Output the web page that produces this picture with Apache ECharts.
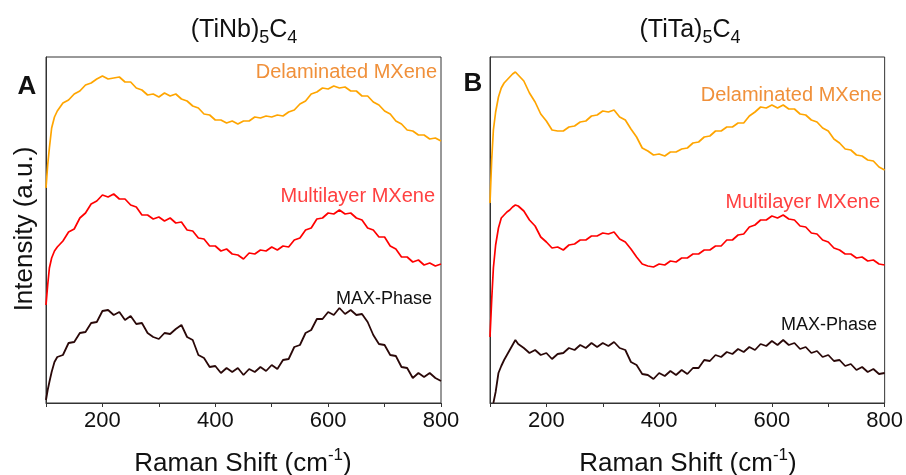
<!DOCTYPE html>
<html><head><meta charset="utf-8">
<script src="https://cdn.jsdelivr.net/npm/echarts@6/dist/echarts.min.js"></script>
<style>html,body{margin:0;padding:0;background:#fff}#c{width:906px;height:475px}</style>
</head><body><div id="c"></div>
<script>
// x positions (Raman shift, cm-1)
const xA = [100,103,106,110,115,120,130,140,150,160,170,180,190,200,210,220,230,240,250,260,270,280,290,300,310,320,330,340,350,360,370,380,390,400,410,420,430,440,450,460,470,480,490,500,510,520,530,540,550,560,570,580,590,600,610,620,630,640,650,660,670,680,690,700,710,720,730,740,750,760,770,780,790,800];
const xB = [100,103,106,110,115,120,125,130,135,140,145,150,160,170,180,190,200,210,220,230,240,250,260,270,280,290,300,310,320,330,340,350,360,370,380,390,400,410,420,430,440,450,460,470,480,490,500,510,520,530,540,550,560,570,580,590,600,610,620,630,640,650,660,670,680,690,700,710,720,730,740,750,760,770,780,790,800];
const xTickLabels = [200,400,600,800];

// Panel A (TiNb)5C4, offset intensities (a.u.)
const aDelaminated = [215,238,255,275,286,292,
 300,303,309,312,318,320,324,327,324,325, 326,321,321,315,313,308,309,306,310,307,
 309,304,302,297,295,289,288,283,283,280, 282,279,282,282,286,285,287,286,288,287,
 291,293,299,302,309,311,315,314,317,315, 316,312,312,307,307,301,298,292,289,282,
 279,273,272,268,268,264,265,262];
const aMultilayer = [98,118,135,145,152,156,
 162,171,174,185,190,199,202,208,206,209, 204,204,198,196,188,188,184,186,182,185,
 180,181,173,172,165,164,157,157,152,154, 149,148,144,150,149,153,152,156,153,157,
 156,163,165,173,175,184,185,190,189,193, 189,190,185,183,175,173,166,166,157,154,
 146,146,141,143,138,140,137,139];
const aMax = [3,13,21,31,41,46,
 48,60,61,70,71,80,81,92,93,88, 91,83,87,79,80,70,66,64,70,69,
 74,78,66,63,48,45,36,37,30,35, 31,35,28,34,31,36,32,38,34,43,
 44,56,58,70,73,84,84,91,88,95, 89,93,88,89,81,68,59,58,48,47,
 36,35,25,30,26,30,25,22];

// Panel B (TiTa)5C4
const bDelaminated = [200,243,273,291,306,315,320,323,326,329,331,328,
 322,310,301,289,282,273,272,272,276,277, 281,282,287,288,292,291,293,286,283,274,
 266,255,252,248,249,247,251,251,254,255, 260,261,266,267,272,272,276,276,280,280,
 287,291,296,295,298,295,298,294,294,289, 288,283,281,275,272,264,260,254,253,248,
 247,243,242,236,233];
const bMultilayer = [66,103,135,158,175,185,188,191,193,196,198,197,
 192,183,177,166,161,155,156,153,158,159, 163,163,167,167,170,169,171,164,161,154,
 146,139,137,136,139,138,142,141,145,145, 149,149,153,153,157,157,163,163,168,169,
 176,178,183,183,187,185,188,184,183,177, 176,170,169,163,161,155,153,149,149,145,
 146,142,143,139,138];
const bMax = [null,null,0,11,30,37,43,48,53,58,63,59,
 55,50,53,48,50,44,49,50,55,53, 58,55,60,56,60,57,61,55,53,41,
 38,29,28,24,30,27,32,28,33,29, 35,35,43,42,48,46,51,49,54,51,
 56,53,59,57,62,58,63,58,60,54, 56,50,52,46,48,42,43,37,39,33,
 36,31,34,29,30];

const zip = (xs, ys) => xs.map((x, i) => [x, ys[i] == null ? '-' : ys[i]]);
const FONT = "'Liberation Sans', Arial, sans-serif";
const C_OR = '#FFA500', C_RED = '#FF0000', C_MAX = '#2A0808';

const chart = echarts.init(document.getElementById('c'), null, {renderer: 'canvas'});
const gridBase = {top: 57, height: 346, show: true, borderColor: '#333', borderWidth: 1, backgroundColor: 'transparent'};
function xAx(gi) {
  return {
    type: 'value', gridIndex: gi, min: 100, max: 800, interval: 100,
    axisLine: {show: true, lineStyle: {color: '#333', width: 1}},
    axisTick: {show: true, length: 4, lineStyle: {color: '#333'}},
    axisLabel: {fontSize: 22, color: '#111', fontFamily: FONT, margin: 7,
      formatter: v => xTickLabels.includes(v) ? String(v) : ''},
    splitLine: {show: false}
  };
}
function yAx(gi) {
  return {type: 'value', gridIndex: gi, min: 0, max: 346,
    axisLine: {show: true, lineStyle: {color: '#333'}}, axisTick: {show: false},
    axisLabel: {show: false}, splitLine: {show: false}};
}
function ser(gi, xs, ys, color, w) {
  return {type: 'line', xAxisIndex: gi, yAxisIndex: gi, data: zip(xs, ys),
    showSymbol: false, symbol: 'none', lineStyle: {color: color, width: w}, animation: false};
}
function txt(x, y, text, opt) {
  return {type: 'text', x: x, y: y, style: Object.assign({text: text, font: '20px ' + FONT, fill: '#111', align: 'center', verticalAlign: 'middle'}, opt)};
}
const subRich = {
  m: {fontSize: 25, fontFamily: FONT, lineHeight: 34, verticalAlign: 'middle', color: '#111'},
  s: {fontSize: 18, fontFamily: FONT, lineHeight: 18, verticalAlign: 'bottom', color: '#111'}
};
const supRich = {
  m: {fontSize: 26, fontFamily: FONT, lineHeight: 34, verticalAlign: 'middle', color: '#111'},
  p: {fontSize: 17, fontFamily: FONT, lineHeight: 17, verticalAlign: 'top', color: '#111'}
};

chart.setOption({
  animation: false,
  grid: [Object.assign({left: 46, width: 395}, gridBase), Object.assign({left: 490, width: 396}, gridBase)],
  xAxis: [xAx(0), xAx(1)],
  yAxis: [yAx(0), yAx(1)],
  series: [
    ser(0, xA, aDelaminated, C_OR, 1.7), ser(0, xA, aMultilayer, C_RED, 1.7), ser(0, xA, aMax, C_MAX, 1.8),
    ser(1, xB, bDelaminated, C_OR, 1.7), ser(1, xB, bMultilayer, C_RED, 1.7), ser(1, xB, bMax, C_MAX, 1.8)
  ],
  graphic: [
    txt(244, 30, '{m|(TiNb)}{s|5}{m|C}{s|4}', {rich: subRich}),
    txt(690, 30, '{m|(TiTa)}{s|5}{m|C}{s|4}', {rich: subRich}),
    txt(27, 87, 'A', {font: 'bold 26px ' + FONT}),
    txt(473, 84, 'B', {font: 'bold 26px ' + FONT}),
    {type: 'text', x: 25, y: 229, rotation: Math.PI / 2,
      style: {text: 'Intensity (a.u.)', font: '26px ' + FONT, fill: '#111', align: 'center', verticalAlign: 'middle'}},
    txt(243, 464, '{m|Raman Shift (cm}{p|-1}{m|)}', {rich: supRich}),
    txt(688, 464, '{m|Raman Shift (cm}{p|-1}{m|)}', {rich: supRich}),
    txt(437, 72, 'Delaminated MXene', {align: 'right', fill: '#F0903A'}),
    txt(882, 95, 'Delaminated MXene', {align: 'right', fill: '#F0903A'}),
    txt(435, 196, 'Multilayer MXene', {align: 'right', fill: '#FF4040'}),
    txt(880, 202, 'Multilayer MXene', {align: 'right', fill: '#FF4040'}),
    txt(432, 299, 'MAX-Phase', {align: 'right', fill: '#111', font: '18px ' + FONT}),
    txt(877, 325, 'MAX-Phase', {align: 'right', fill: '#111', font: '18px ' + FONT})
  ]
});
</script></body></html>
